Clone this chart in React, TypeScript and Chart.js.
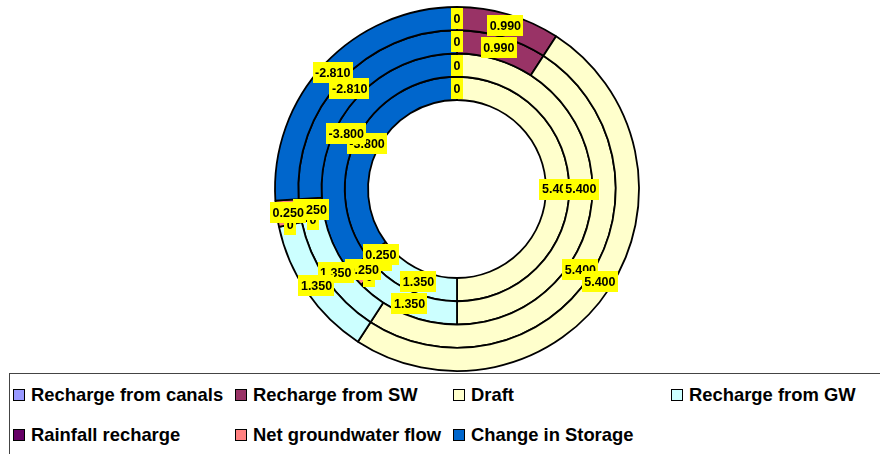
import React, { useEffect, useRef } from "react";
import { Chart, registerables } from "chart.js";

Chart.register(...registerables);

// ---- data ----
const categories = [
  "Recharge from canals",
  "Recharge from SW",
  "Draft",
  "Recharge from GW",
  "Rainfall recharge",
  "Net groundwater flow",
  "Change in Storage",
];
const colors = ["#9999FF", "#993366", "#FFFFCC", "#CCFFFF", "#660066", "#FF8080", "#0066CC"];
// rings listed from outermost to innermost
const ring1 = [0, 0.99, 5.4, 1.35, 0, 0.25, -2.81];
const ring2 = [0, 0.99, 5.4, 1.35, 0, 0.25, -2.81];
const ring3 = [0, 0, 5.4, 1.35, 0, 0.25, -3.8];
const ring4 = [0, 0, 5.4, 1.35, 0, 0.25, -3.8];
const rings = [ring1, ring2, ring3, ring4];

// ---- layout (not data) ----
const legendCols = [13, 235, 453, 671];
const legendRows = [395, 435];

const fmt = (v: number) => (v === 0 ? "0" : v.toFixed(3));

const labelPlugin = {
  id: "yellowLabels",
  afterDatasetsDraw(chart: any) {
    const ctx = chart.ctx as CanvasRenderingContext2D;
    ctx.save();
    ctx.font = "bold 12.5px 'Liberation Sans', Arial, sans-serif";
    ctx.textAlign = "center";
    ctx.textBaseline = "middle";
    for (let d = chart.data.datasets.length - 1; d >= 0; d--) {
      const meta = chart.getDatasetMeta(d);
      const data = chart.data.datasets[d].data as number[];
      meta.data.forEach((arc: any, i: number) => {
        const p = arc.getProps(["x", "y", "startAngle", "endAngle", "innerRadius", "outerRadius"], true);
        const mid = (p.startAngle + p.endAngle) / 2;
        const r = (p.innerRadius + p.outerRadius) / 2;
        const cx = p.x + Math.cos(mid) * r;
        const cy = p.y + Math.sin(mid) * r;
        const txt = fmt(data[i]);
        const w = ctx.measureText(txt).width + 5;
        const h = 21;
        ctx.fillStyle = "#FFFF00";
        ctx.fillRect(Math.round(cx - w / 2), Math.round(cy - h / 2), Math.round(w), h);
        ctx.fillStyle = "#000";
        ctx.fillText(txt, cx, cy + 1);
      });
    }
    ctx.restore();
  },
};

export default function App() {
  const ref = useRef<HTMLCanvasElement>(null);
  useEffect(() => {
    if (!ref.current) return;
    const chart = new Chart(ref.current, {
      type: "doughnut",
      data: {
        labels: categories,
        datasets: rings.map((r, k) => ({
          label: "Ring " + (k + 1),
          data: r,
          backgroundColor: colors,
          borderColor: "#000",
          borderWidth: 1.8,
        })),
      },
      options: {
        responsive: false,
        devicePixelRatio: 1,
        animation: false,
        radius: 182,
        cutout: "48.9%",
        layout: { padding: { left: 34, right: 0, top: 0, bottom: 76 } },
        plugins: { legend: { display: false }, tooltip: { enabled: false } },
      } as any,
      plugins: [labelPlugin],
    });
    return () => chart.destroy();
  }, []);

  const font = "'Liberation Sans', Arial, sans-serif";
  return (
    <div style={{ position: "fixed", left: 0, top: 0, width: 880, height: 454, overflow: "hidden", background: "#fff" }}>
      <canvas ref={ref} width={880} height={454} style={{ position: "absolute", left: 0, top: 0, width: 880, height: 454 }} />
      <div
        style={{
          position: "absolute",
          left: 9,
          top: 373,
          width: 900,
          height: 120,
          border: "1.5px solid #444",
          boxSizing: "border-box",
          background: "#fff",
        }}
      />
      {categories.map((c, i) => {
        const col = i % 4;
        const row = Math.floor(i / 4);
        const x = legendCols[col];
        const y = legendRows[row];
        return (
          <div key={c}>
            <div
              style={{
                position: "absolute",
                left: x,
                top: y - 6,
                width: 12,
                height: 12,
                boxSizing: "border-box",
                border: "1px solid #000",
                background: colors[i],
              }}
            />
            <div
              style={{
                position: "absolute",
                left: x + 18,
                top: y - 11,
                height: 22,
                lineHeight: "22px",
                fontFamily: font,
                fontWeight: "bold",
                fontSize: 18.4,
                color: "#000",
                whiteSpace: "nowrap",
              }}
            >
              {c}
            </div>
          </div>
        );
      })}
    </div>
  );
}
